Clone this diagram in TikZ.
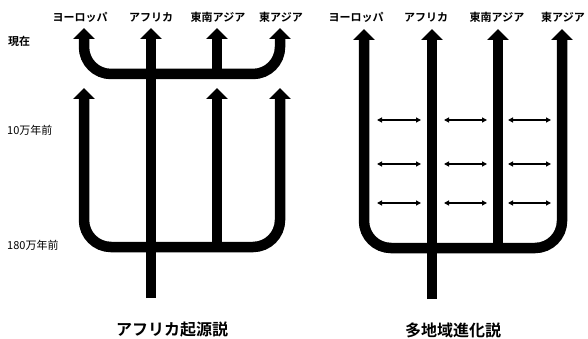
\documentclass[tikz,border=0pt]{standalone}
\usepackage{fontspec}
\newfontfamily\jp{Noto Sans CJK JP}[BoldFont={* Bold}]
\usetikzlibrary{arrows.meta}
\tikzset{
  bar/.style={line width=10.5pt, line cap=butt, line join=miter},
  bararrow/.style={bar, -{Triangle[width=21pt,length=11pt]}},
  barboth/.style={bar, {Triangle[width=21pt,length=11pt]}-{Triangle[width=21pt,length=11pt]}, rounded corners=27pt},
  flow/.style={line width=1.2pt, {Triangle[width=5pt,length=5pt]}-{Triangle[width=5pt,length=5pt]}},
  region/.style={font=\jp\bfseries\fontsize{11}{12}\selectfont, inner sep=0pt},
  era/.style={font=\jp\fontsize{11}{12}\selectfont, inner sep=0pt, anchor=west},
  title/.style={font=\jp\bfseries\fontsize{16}{18}\selectfont, inner sep=0pt}
}
\begin{document}
\begin{tikzpicture}[x=1pt,y=-1pt]
\useasboundingbox (0,0) rectangle (588,339);
% ---------- left: Out of Africa ----------
\coordinate (LEtop) at (84,28);   \coordinate (LEAtop) at (280,28);
\coordinate (LAtop) at (151,28);  \coordinate (LStop) at (217,28);
\coordinate (LTl) at (84,74);     \coordinate (LTr) at (280,74);
\coordinate (LTs) at (217,74);
\coordinate (LElow) at (84,88);   \coordinate (LSlow) at (217,88);
\coordinate (LEAlow) at (280,88);
\coordinate (LBl) at (84,247);    \coordinate (LBr) at (280,247);
\coordinate (LBs) at (217,247);
\coordinate (LAbot) at (151,298);
\draw[barboth] (LEtop) -- (LTl) -- (LTr) -- (LEAtop);
\draw[bararrow] (LTs) -- (LStop);
\draw[barboth] (LElow) -- (LBl) -- (LBr) -- (LEAlow);
\draw[bararrow] (LBs) -- (LSlow);
\draw[bararrow] (LAbot) -- (LAtop);
% ---------- right: Multiregional ----------
\coordinate (RE) at (364,29);  \coordinate (RA) at (432,29);
\coordinate (RS) at (498,29);  \coordinate (REA) at (562,29);
\coordinate (RBl) at (364,248); \coordinate (RBr) at (562,248);
\coordinate (RBs) at (498,248); \coordinate (RAbot) at (432,299);
\draw[barboth] (RE) -- (RBl) -- (RBr) -- (REA);
\draw[bararrow] (RBs) -- (RS);
\draw[bararrow] (RAbot) -- (RA);
\foreach \y [count=\i] in {120,164,203}{
  \coordinate (g1a\i) at (377,\y); \coordinate (g1b\i) at (421,\y);
  \coordinate (g2a\i) at (444,\y); \coordinate (g2b\i) at (487,\y);
  \coordinate (g3a\i) at (508,\y); \coordinate (g3b\i) at (551,\y);
  \draw[flow] (g1a\i) -- (g1b\i);
  \draw[flow] (g2a\i) -- (g2b\i);
  \draw[flow] (g3a\i) -- (g3b\i);
}
% ---------- labels ----------
\node[region] (l1) at (80,17) {ヨーロッパ};
\node[region] (l2) at (151,17) {アフリカ};
\node[region] (l3) at (218,17) {東南アジア};
\node[region] (l4) at (281,17) {東アジア};
\node[region] (r1) at (356,17) {ヨーロッパ};
\node[region] (r2) at (426,17) {アフリカ};
\node[region] (r3) at (497,17) {東南アジア};
\node[region] (r4) at (563,17) {東アジア};
\node[era, font=\jp\bfseries\fontsize{11}{12}\selectfont] (e0) at (8,41) {現在};
\node[era] (e1) at (7,130) {10万年前};
\node[era] (e2) at (7,245) {180万年前};
\node[title] (t1) at (172,330) {アフリカ起源説};
\node[title] (t2) at (453,330) {多地域進化説};
\end{tikzpicture}
\end{document}
